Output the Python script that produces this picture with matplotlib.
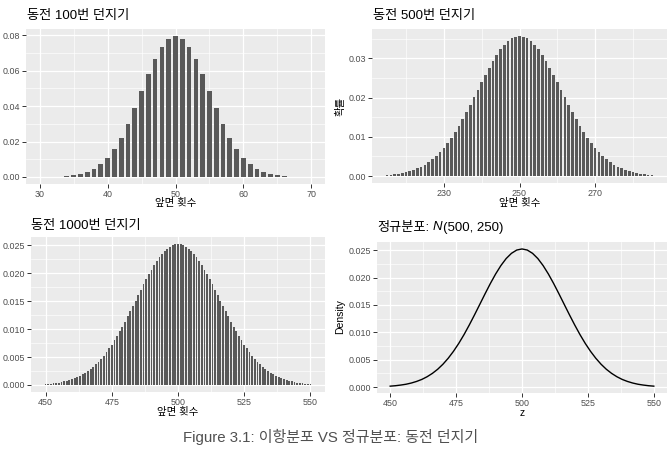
import matplotlib
matplotlib.use('Agg')
import matplotlib.pyplot as plt
import numpy as np
from matplotlib.ticker import FormatStrFormatter

plt.rcParams['font.family'] = ['Liberation Sans', 'Noto Sans CJK KR', 'DejaVu Sans']

# ---------------- data ----------------
heads_100 = list(range(30, 71))
prob_100 = [0.0000232, 0.0000523, 0.000113, 0.000232, 0.000458, 0.000864, 0.00156, 0.00270, 0.00447, 0.00711,
            0.01084, 0.01587, 0.02229, 0.03007, 0.03895, 0.04847, 0.05796, 0.06659, 0.07353, 0.07803,
            0.07959,
            0.07803, 0.07353, 0.06659, 0.05796, 0.04847, 0.03895, 0.03007, 0.02229, 0.01587, 0.01084,
            0.00711, 0.00447, 0.00270, 0.00156, 0.000864, 0.000458, 0.000232, 0.000113, 0.0000523, 0.0000232]

heads_500 = list(range(215, 286))
prob_500 = [0.00026, 0.00035, 0.00046, 0.00059, 0.00076, 0.00097, 0.00123, 0.00155, 0.00193, 0.00239,
            0.00293, 0.00357, 0.00430, 0.00515, 0.00612, 0.00721, 0.00843, 0.00977, 0.01124, 0.01283,
            0.01452, 0.01630, 0.01816, 0.02007, 0.02200, 0.02392, 0.02581, 0.02762, 0.02933, 0.03089,
            0.03228, 0.03346, 0.03441, 0.03510, 0.03552,
            0.03567,
            0.03552, 0.03510, 0.03441, 0.03346, 0.03228, 0.03089, 0.02933, 0.02762, 0.02581, 0.02392,
            0.02200, 0.02007, 0.01816, 0.01630, 0.01452, 0.01283, 0.01124, 0.00977, 0.00843, 0.00721,
            0.00612, 0.00515, 0.00430, 0.00357, 0.00293, 0.00239, 0.00193, 0.00155, 0.00123, 0.00097,
            0.00076, 0.00059, 0.00046, 0.00035, 0.00026]

heads_1000 = list(range(450, 551))
prob_1000 = [0.00017, 0.00021, 0.00025, 0.00030, 0.00037, 0.00044, 0.00052, 0.00062, 0.00074, 0.00087,
             0.00103, 0.00120, 0.00140, 0.00163, 0.00189, 0.00218, 0.00250, 0.00286, 0.00325, 0.00369,
             0.00417, 0.00469, 0.00526, 0.00587, 0.00653, 0.00723, 0.00797, 0.00876, 0.00958, 0.01044,
             0.01134, 0.01226, 0.01320, 0.01416, 0.01512, 0.01609, 0.01705, 0.01800, 0.01892, 0.01981,
             0.02066, 0.02146, 0.02220, 0.02287, 0.02348, 0.02400, 0.02443, 0.02478, 0.02503, 0.02518,
             0.02523,
             0.02518, 0.02503, 0.02478, 0.02443, 0.02400, 0.02348, 0.02287, 0.02220, 0.02146, 0.02066,
             0.01981, 0.01892, 0.01800, 0.01705, 0.01609, 0.01512, 0.01416, 0.01320, 0.01226, 0.01134,
             0.01044, 0.00958, 0.00876, 0.00797, 0.00723, 0.00653, 0.00587, 0.00526, 0.00469, 0.00417,
             0.00369, 0.00325, 0.00286, 0.00250, 0.00218, 0.00189, 0.00163, 0.00140, 0.00120, 0.00103,
             0.00087, 0.00074, 0.00062, 0.00052, 0.00044, 0.00037, 0.00030, 0.00025, 0.00021, 0.00017]

z_values = list(range(450, 551, 2))
density = [0.00017, 0.00025, 0.00037, 0.00052, 0.00074, 0.00103, 0.00140, 0.00189, 0.00250, 0.00325,
           0.00417, 0.00526, 0.00653, 0.00797, 0.00958, 0.01134, 0.01320, 0.01512, 0.01705, 0.01892,
           0.02066, 0.02220, 0.02348, 0.02443, 0.02503,
           0.02523,
           0.02503, 0.02443, 0.02348, 0.02220, 0.02066, 0.01892, 0.01705, 0.01512, 0.01320, 0.01134,
           0.00958, 0.00797, 0.00653, 0.00526, 0.00417, 0.00325, 0.00250, 0.00189, 0.00140, 0.00103,
           0.00074, 0.00052, 0.00037, 0.00025, 0.00017]

titles = ['동전 100번 던지기', '동전 500번 던지기', '동전 1000번 던지기']
x_label = '앞면 횟수'
caption = 'Figure 3.1: 이항분포 VS 정규분포: 동전 던지기'

# ---------------- layout ----------------
W, H = 668, 450
fig = plt.figure(figsize=(W / 100, H / 100), dpi=100)


def rect(x0, y0, x1, y1):
    return [x0 / W, 1 - y1 / H, (x1 - x0) / W, (y1 - y0) / H]


def fx(px):
    return px / W


def fy(py):
    return 1 - py / H


def style(ax, xmaj, xmin, ymaj, ymin, yfmt, xlim, ylim):
    ax.set_facecolor('#EBEBEB')
    for s in ax.spines.values():
        s.set_visible(False)
    ax.set_xlim(xlim)
    ax.set_ylim(ylim)
    ax.set_xticks(xmaj)
    ax.set_xticks(xmin, minor=True)
    ax.set_yticks(ymaj)
    ax.set_yticks(ymin, minor=True)
    ax.set_xticklabels([str(v) for v in xmaj])
    ax.yaxis.set_major_formatter(FormatStrFormatter(yfmt))
    ax.grid(which='major', color='white', lw=0.9)
    ax.grid(which='minor', color='white', lw=0.45)
    ax.set_axisbelow(True)
    ax.tick_params(which='major', length=3, width=0.7, color='#333333',
                   labelsize=6.4, labelcolor='#4D4D4D', pad=1.2)
    ax.tick_params(which='minor', length=0)


bar_color = '#595959'

# Panel 1
ax1 = fig.add_axes(rect(26, 29, 325, 184))
ax1.bar(heads_100, prob_100, width=0.7, color=bar_color, linewidth=0)
style(ax1, [30, 40, 50, 60, 70], [35, 45, 55, 65],
      [0, 0.02, 0.04, 0.06, 0.08], [0.01, 0.03, 0.05, 0.07], '%.2f',
      (28, 72), (-0.00398, 0.0836))

# Panel 2
ax2 = fig.add_axes(rect(372, 29, 667, 183))
ax2.bar(heads_500, prob_500, width=0.7, color=bar_color, linewidth=0)
style(ax2, [230, 250, 270], [220, 240, 260, 280],
      [0, 0.01, 0.02, 0.03], [0.005, 0.015, 0.025, 0.035], '%.2f',
      (211.0, 289.0), (-0.00178, 0.03745))

# Panel 3
ax3 = fig.add_axes(rect(31, 237, 325, 392))
ax3.bar(heads_1000, prob_1000, width=0.7, color=bar_color, linewidth=0)
style(ax3, [450, 475, 500, 525, 550], [462.5, 487.5, 512.5, 537.5],
      [0, 0.005, 0.010, 0.015, 0.020, 0.025],
      [0.0025, 0.0075, 0.0125, 0.0175, 0.0225], '%.3f',
      (444.5, 555.5), (-0.00126, 0.02649))

# Panel 4
ax4 = fig.add_axes(rect(377, 242, 667, 393))
ax4.plot(z_values, density, color='black', lw=1.0)
style(ax4, [450, 475, 500, 525, 550], [462.5, 487.5, 512.5, 537.5],
      [0, 0.005, 0.010, 0.015, 0.020, 0.025],
      [0.0025, 0.0075, 0.0125, 0.0175, 0.0225], '%.3f',
      (445, 555), (-0.00108, 0.0265))

# Titles
tkw = dict(fontsize=9.5, color='black', va='center', ha='left')
fig.text(fx(27), fy(15.5), titles[0], **tkw)
fig.text(fx(373), fy(16), titles[1], **tkw)
fig.text(fx(31.5), fy(226), titles[2], **tkw)

# Panel 4 title with italic N
base_y = fy(230.5)
bkw = dict(fontsize=9.5, color='black', va='baseline', ha='left')
t1 = fig.text(fx(377), base_y, '정규분포:', **bkw)
t2 = fig.text(0, base_y, 'N', style='italic', **bkw)
t3 = fig.text(0, base_y, '(500, 250)', **bkw)
fig.canvas.draw()
r = fig.canvas.get_renderer()
bb1 = t1.get_window_extent(r)
t2.set_position(((bb1.x1 + 3.5) / W, base_y))
fig.canvas.draw()
bb2 = t2.get_window_extent(r)
t3.set_position(((bb2.x1 + 0.8) / W, base_y))

# Axis titles
lkw = dict(fontsize=7.5, color='black', ha='center', va='center')
fig.text(fx(175.5), fy(203), x_label, **lkw)
fig.text(fx(519.5), fy(203), x_label, **lkw)
fig.text(fx(178), fy(411.5), x_label, **lkw)
fig.text(fx(522), fy(413), 'z', **lkw)
fig.text(fx(340), fy(106), '확률', rotation=90, **lkw)
fig.text(fx(340), fy(317), 'Density', rotation=90, **lkw)

# Caption
fig.text(fx(331), fy(437), caption, fontsize=10.8, color='#505050', ha='center', va='center')

fig.savefig('out.png', dpi=100)
